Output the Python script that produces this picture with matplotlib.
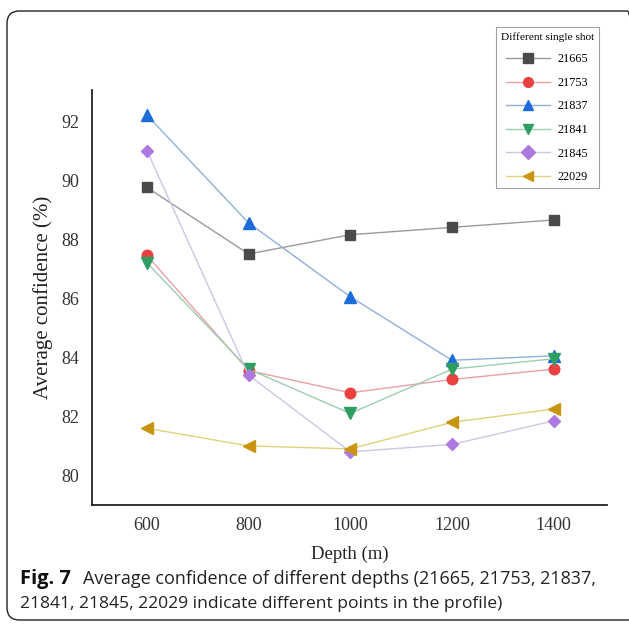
import matplotlib
matplotlib.use("Agg")
import matplotlib.pyplot as plt
from matplotlib.patches import FancyBboxPatch

depths = [600, 800, 1000, 1200, 1400]
shots = ["21665", "21753", "21837", "21841", "21845", "22029"]
conf_21665 = [89.75, 87.5, 88.15, 88.4, 88.65]
conf_21753 = [87.45, 83.55, 82.8, 83.25, 83.6]
conf_21837 = [92.2, 88.55, 86.05, 83.9, 84.05]
conf_21841 = [87.2, 83.6, 82.1, 83.6, 83.95]
conf_21845 = [91.0, 83.4, 80.8, 81.05, 81.85]
conf_22029 = [81.6, 81.0, 80.9, 81.8, 82.25]
series = [conf_21665, conf_21753, conf_21837, conf_21841, conf_21845, conf_22029]

marker_colors = ["#4a4a4a", "#e8413f", "#1c6ddc", "#2f9e62", "#ad78df", "#c99510"]
line_colors = ["#9a9a9a", "#eaa0a6", "#8fb0dc", "#9cceb0", "#cfc4e4", "#e0d27a"]
markers = ["s", "o", "^", "v", "D", "<"]
msizes = [6.8, 7.6, 8.2, 8.2, 6.6, 8.2]

serif = ["Liberation Serif", "DejaVu Serif"]

fig = plt.figure(figsize=(6.29, 6.28), dpi=100)
W, H = 629, 628

# rounded frame around the figure panel
frame = FancyBboxPatch((7 / W, 8 / H), (640 - 7) / W, (617 - 8) / H,
                       boxstyle="round,pad=0,rounding_size=0.02",
                       transform=fig.transFigure, fill=False,
                       edgecolor="#222222", linewidth=1.0, clip_on=False)
fig.patches.append(frame)

ax = fig.add_axes([92 / W, 1 - 505 / H, (607 - 92) / W, (505 - 90) / H])

for vals, name, mc, lc, m, ms in zip(series, shots, marker_colors, line_colors, markers, msizes):
    ax.plot(depths, vals, color=lc, linewidth=1.0, marker=m, markersize=ms,
            markerfacecolor=mc, markeredgecolor=mc, label=name)

ax.set_xlim(492, 1505)
ax.set_ylim(79.0, 93.05)
ax.set_xticks(depths)
ax.set_yticks([80, 82, 84, 86, 88, 90, 92])
ax.tick_params(length=0, labelsize=13, pad=9, colors="#333333")
for lab in ax.get_xticklabels() + ax.get_yticklabels():
    lab.set_fontfamily(serif)
for side in ["top", "right"]:
    ax.spines[side].set_visible(False)
for side in ["left", "bottom"]:
    ax.spines[side].set_linewidth(1.3)
    ax.spines[side].set_color("#222222")

ax.set_xlabel("Depth (m)", fontsize=13.5, family=serif, labelpad=8, color="#222222")
ax.set_ylabel("Average confidence (%)", fontsize=15, family=serif, labelpad=6, color="#222222")

leg = ax.legend(title="Different single shot", loc="upper right",
                bbox_to_anchor=(599 / W, 1 - 27 / H), bbox_transform=fig.transFigure,
                prop={"family": serif, "size": 8.8}, title_fontproperties={"family": serif, "size": 8.2},
                frameon=True, fancybox=False, edgecolor="#888888", handlelength=3.6,
                labelspacing=0.95, borderpad=0.4, handletextpad=0.6, borderaxespad=0)
leg.get_frame().set_linewidth(0.8)
for h in leg.legend_handles:
    h.set_markersize(7)

cap = ["Open Sans", "DejaVu Sans"]
fig.text(20 / W, 1 - 579 / H, "Fig. 7", fontsize=14.5, family=cap, weight="bold",
         va="center", ha="left", color="#111111")
fig.text(83 / W, 1 - 579 / H,
         "Average confidence of different depths (21665, 21753, 21837,",
         fontsize=13, family=cap, va="center", ha="left", color="#222222")
fig.text(20 / W, 1 - 604 / H,
         "21841, 21845, 22029 indicate different points in the profile)",
         fontsize=12.6, family=cap, va="center", ha="left", color="#222222")

fig.savefig("out.png", dpi=100)
